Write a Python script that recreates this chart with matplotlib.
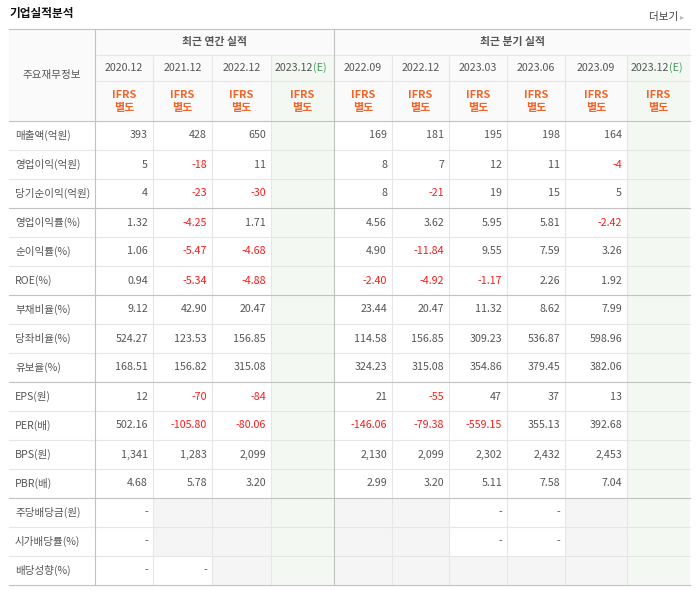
import matplotlib
matplotlib.use("Agg")
import matplotlib.pyplot as plt
from matplotlib.patches import Rectangle

plt.rcParams['font.family'] = ['Noto Sans CJK KR', 'DejaVu Sans']

# ---------------- data ----------------
title = '기업실적분석'
more_label = '더보기'
corner_label = '주요재무정보'
group_labels = ['최근 연간 실적', '최근 분기 실적']
annual_periods = ['2020.12', '2021.12', '2022.12', '2023.12(E)']
quarter_periods = ['2022.09', '2022.12', '2023.03', '2023.06', '2023.09', '2023.12(E)']
standard_lines = ['IFRS', '별도']

row_labels = ['매출액(억원)', '영업이익(억원)', '당기순이익(억원)', '영업이익률(%)',
              '순이익률(%)', 'ROE(%)', '부채비율(%)', '당좌비율(%)', '유보율(%)',
              'EPS(원)', 'PER(배)', 'BPS(원)', 'PBR(배)', '주당배당금(원)',
              '시가배당률(%)', '배당성향(%)']

# '' = empty white cell, None = greyed-out cell
annual_values = [
    ['393', '428', '650', ''],
    ['5', '-18', '11', ''],
    ['4', '-23', '-30', ''],
    ['1.32', '-4.25', '1.71', ''],
    ['1.06', '-5.47', '-4.68', ''],
    ['0.94', '-5.34', '-4.88', ''],
    ['9.12', '42.90', '20.47', ''],
    ['524.27', '123.53', '156.85', ''],
    ['168.51', '156.82', '315.08', ''],
    ['12', '-70', '-84', ''],
    ['502.16', '-105.80', '-80.06', ''],
    ['1,341', '1,283', '2,099', ''],
    ['4.68', '5.78', '3.20', ''],
    ['-', None, None, ''],
    ['-', None, None, ''],
    ['-', '-', None, ''],
]
quarter_values = [
    ['169', '181', '195', '198', '164', ''],
    ['8', '7', '12', '11', '-4', ''],
    ['8', '-21', '19', '15', '5', ''],
    ['4.56', '3.62', '5.95', '5.81', '-2.42', ''],
    ['4.90', '-11.84', '9.55', '7.59', '3.26', ''],
    ['-2.40', '-4.92', '-1.17', '2.26', '1.92', ''],
    ['23.44', '20.47', '11.32', '8.62', '7.99', ''],
    ['114.58', '156.85', '309.23', '536.87', '598.96', ''],
    ['324.23', '315.08', '354.86', '379.45', '382.06', ''],
    ['21', '-55', '47', '37', '13', ''],
    ['-146.06', '-79.38', '-559.15', '355.13', '392.68', ''],
    ['2,130', '2,099', '2,302', '2,432', '2,453', ''],
    ['2.99', '3.20', '5.11', '7.58', '7.04', ''],
    [None, None, '-', '-', None, ''],
    [None, None, '-', '-', None, ''],
    [None, None, None, None, None, ''],
]
group_break_after = [3, 6, 9, 13]

# ---------------- layout (pixels) ----------------
W, H = 698, 591
col_edges = [9, 95, 153, 212, 271, 334, 392, 449, 507, 565, 627, 690]
y_top, y_grp, y_per, y_hdr = 29, 55, 81, 121
row_h = 29

C_TEXT = '#555555'
C_NEG = '#ff1a1a'
C_ORANGE = '#f2652a'
C_GREEN_TXT = '#3f9a5b'
C_GREEN_BG = '#f3f8f3'
C_GREY_BG = '#f5f5f5'
C_HDR_BG = '#fafafa'
C_DARK_LINE = '#c2c2c2'
C_LIGHT_LINE = '#e6e6e6'

fig = plt.figure(figsize=(W / 100, H / 100), dpi=100)
ax = fig.add_axes([0, 0, 1, 1])
ax.set_xlim(0, W)
ax.set_ylim(H, 0)
ax.axis('off')

n_rows = len(row_labels)
y_bottom = y_hdr + n_rows * row_h
periods = annual_periods + quarter_periods
values = [a + q for a, q in zip(annual_values, quarter_values)]
n_cols = len(periods)

# backgrounds
ax.add_patch(Rectangle((col_edges[0], y_top), col_edges[-1] - col_edges[0], y_hdr - y_top,
                       facecolor=C_HDR_BG, edgecolor='none', zorder=0))
for j, p in enumerate(periods):
    x0, x1 = col_edges[j + 1], col_edges[j + 2]
    if '(E)' in p:
        ax.add_patch(Rectangle((x0, y_grp), x1 - x0, y_bottom - y_grp,
                               facecolor=C_GREEN_BG, edgecolor='none', zorder=0.5))
for i in range(n_rows):
    for j in range(n_cols):
        if values[i][j] is None:
            x0, x1 = col_edges[j + 1], col_edges[j + 2]
            ax.add_patch(Rectangle((x0, y_hdr + i * row_h), x1 - x0, row_h,
                                   facecolor=C_GREY_BG, edgecolor='none', zorder=0.5))

# horizontal lines
lw = 0.8
ax.plot([col_edges[0], col_edges[-1]], [y_top, y_top], color=C_DARK_LINE, lw=lw, zorder=2)
for yy in (y_grp, y_per):
    ax.plot([col_edges[1], col_edges[-1]], [yy, yy], color=C_LIGHT_LINE, lw=lw, zorder=1)
ax.plot([col_edges[0], col_edges[-1]], [y_hdr, y_hdr], color=C_DARK_LINE, lw=lw, zorder=2)
for i in range(1, n_rows + 1):
    yy = y_hdr + i * row_h
    dark = (i in group_break_after) or i == n_rows
    ax.plot([col_edges[0], col_edges[-1]], [yy, yy],
            color=C_DARK_LINE if dark else C_LIGHT_LINE, lw=lw, zorder=2 if dark else 1)

# vertical lines
for k, xx in enumerate(col_edges[1:-1], start=1):
    dark = k in (1, 1 + len(annual_periods))
    ax.plot([xx, xx], [y_top if dark else y_grp, y_bottom],
            color=C_DARK_LINE if dark else C_LIGHT_LINE, lw=lw, zorder=2 if dark else 1)

# title and more link
ax.text(10, 13, title, fontsize=8.4, fontweight='bold', color='#111111', ha='left', va='center')
ax.text(678, 17, more_label, fontsize=7.6, color='#444444', ha='right', va='center')
ax.text(680, 17, '▸', fontsize=6, color='#bbbbbb', ha='left', va='center',
        family=['DejaVu Sans'])

# header texts
ax.text((col_edges[0] + col_edges[1]) / 2, (y_top + y_hdr) / 2, corner_label,
        fontsize=7.6, color=C_TEXT, ha='center', va='center')
grp_spans = [(col_edges[1], col_edges[1 + len(annual_periods)]),
             (col_edges[1 + len(annual_periods)], col_edges[-1])]
for lab, (a, b) in zip(group_labels, grp_spans):
    ax.text((a + b) / 2, (y_top + y_grp) / 2, lab, fontsize=7.8, fontweight='bold',
            color='#555555', ha='center', va='center')
for j, p in enumerate(periods):
    x0, x1 = col_edges[j + 1], col_edges[j + 2]
    cx = (x0 + x1) / 2
    cy = (y_grp + y_per) / 2
    if '(E)' in p:
        base = p.replace('(E)', '')
        ax.text(x0 + 42, cy, base, fontsize=7.7, color=C_TEXT, ha='right', va='center')
        ax.text(x0 + 42, cy, '(E)', fontsize=7.7, color=C_GREEN_TXT, ha='left', va='center')
    else:
        ax.text(cx, cy, p, fontsize=7.7, color=C_TEXT, ha='center', va='center')
    ax.text(cx, 95, standard_lines[0], fontsize=7.9, fontweight='bold',
            color=C_ORANGE, ha='center', va='center')
    ax.text(cx, 108.5, standard_lines[1], fontsize=7.9, fontweight='bold',
            color=C_ORANGE, ha='center', va='center')

# body
for i, lab in enumerate(row_labels):
    cy = y_hdr + (i + 0.5) * row_h
    ax.text(15, cy, lab, fontsize=7.6, color=C_TEXT, ha='left', va='center')
    for j in range(n_cols):
        v = values[i][j]
        if not v:
            continue
        x1 = col_edges[j + 2]
        neg = v.startswith('-') and len(v) > 1
        ax.text(x1 - 5, cy, v, fontsize=7.7, color=C_NEG if neg else C_TEXT,
                ha='right', va='center')

fig.savefig('out.png', dpi=100)
